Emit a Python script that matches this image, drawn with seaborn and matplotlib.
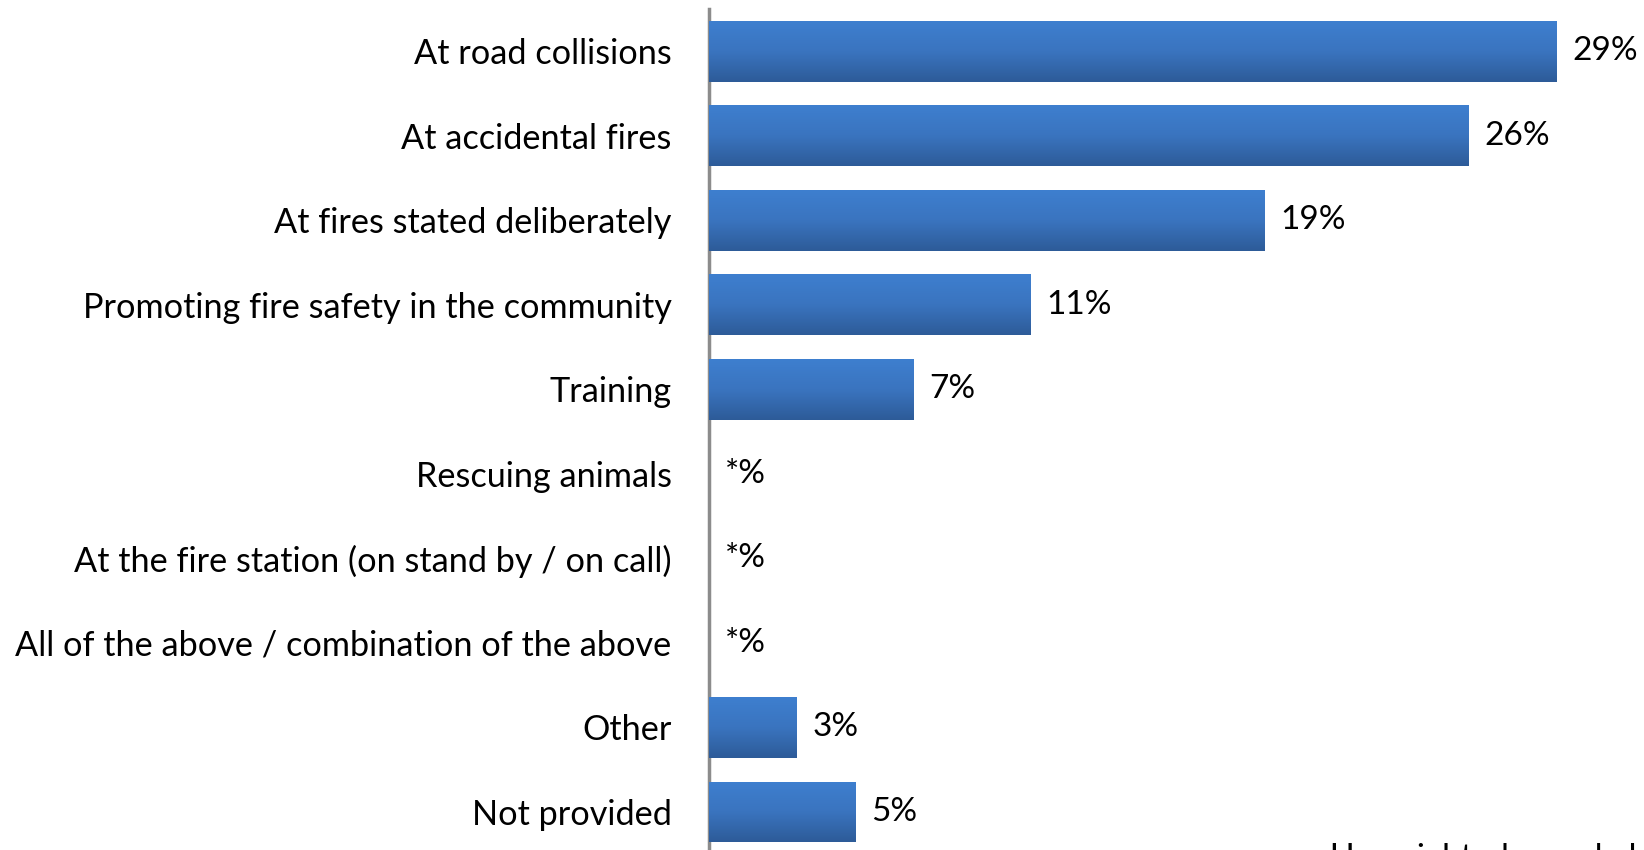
import numpy as np
import pandas as pd
import matplotlib
matplotlib.use("Agg")
import matplotlib.pyplot as plt
import seaborn as sns
from matplotlib.colors import LinearSegmentedColormap

categories = [
    "At road collisions",
    "At accidental fires",
    "At fires stated deliberately",
    "Promoting fire safety in the community",
    "Training",
    "Rescuing animals",
    "At the fire station (on stand by / on call)",
    "All of the above / combination of the above",
    "Other",
    "Not provided",
]
values = [29, 26, 19, 11, 7, 0, 0, 0, 3, 5]
value_labels = ["29%", "26%", "19%", "11%", "7%", "*%", "*%", "*%", "3%", "5%"]
footnote = "Unweighted sample base"

sns.set_theme(style="white")
plt.rcParams["font.family"] = ["Lato", "DejaVu Sans"]

df = pd.DataFrame({"category": categories, "value": values})

fig = plt.figure(figsize=(16.44, 8.50), dpi=100)
ax = fig.add_axes([709 / 1644, 0.0, 1 - 709 / 1644, 1 - 9 / 850])

sns.barplot(data=df, x="value", y="category", ax=ax, color="#3a75c0",
            width=0.72, orient="h", saturation=1)

ax.set_xlim(0, 32)
ax.set_ylim(9.45, -0.5)

# gradient fill
cmap = LinearSegmentedColormap.from_list("g", ["#3e7fcf", "#3a74bf", "#2d5b98"])
grad = np.linspace(0, 1, 256).reshape(-1, 1)
for p in list(ax.patches):
    x0, y0 = p.get_x(), p.get_y()
    w, h = p.get_width(), p.get_height()
    if w <= 0:
        continue
    im = ax.imshow(grad, cmap=cmap, aspect="auto",
                   extent=[x0, x0 + w, y0 + h, y0], origin="upper", zorder=3)
    im.set_clip_path(p)
    p.set_edgecolor("none")

FS = 24
for i, (v, lab) in enumerate(zip(values, value_labels)):
    ax.text(v + 0.55, i, lab, va="center", ha="left", fontsize=FS, color="#000000")

ax.set_xlabel("")
ax.set_ylabel("")
ax.set_xticks([])
ax.tick_params(axis="y", length=0, pad=27, labelsize=24.7, labelcolor="#000000")
for s in ["top", "right", "bottom"]:
    ax.spines[s].set_visible(False)
ax.spines["left"].set_color("#8c8c8c")
ax.spines["left"].set_linewidth(2.5)

fig.text(1330 / 1644, 1 - 843 / 850, footnote, ha="left", va="top", fontsize=FS, color="#000000")

fig.savefig("out.png", dpi=100, facecolor="white")
